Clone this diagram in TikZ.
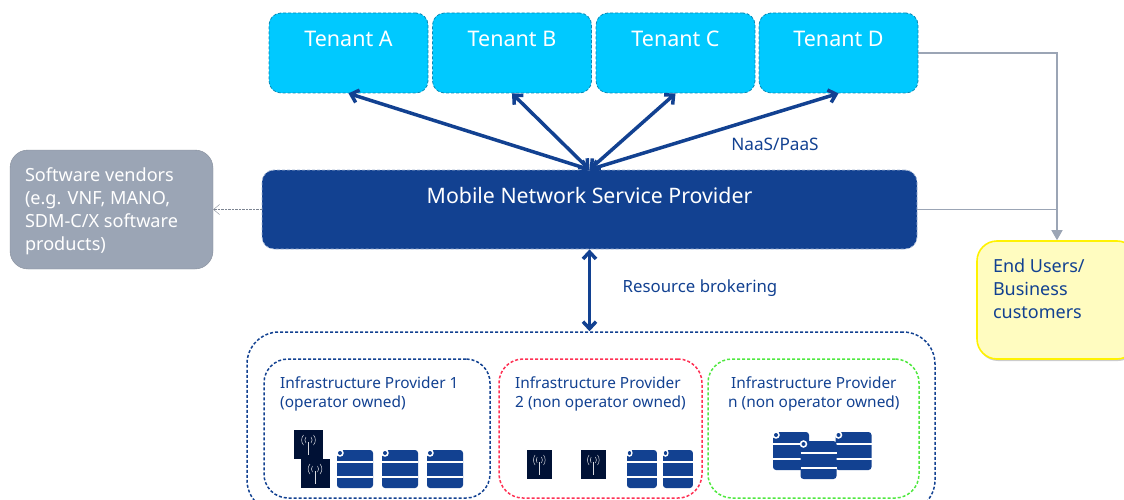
\documentclass[tikz,border=0pt]{standalone}
\usepackage{fontspec}
\setmainfont{Noto Sans}
\usetikzlibrary{arrows.meta,shadows}
\definecolor{navy}{HTML}{124191}
\definecolor{tilenavy}{HTML}{001135}
\definecolor{skyblue}{HTML}{00C9FF}
\definecolor{skyedge}{HTML}{0889B5}
\definecolor{slate}{HTML}{9BA5B5}
\definecolor{paleyellow}{HTML}{FFFCC0}
\definecolor{brightyellow}{HTML}{FFF200}
\definecolor{redline}{HTML}{FF3154}
\definecolor{greenline}{HTML}{4FE83F}
\tikzset{
 tenant/.style={draw=skyedge,densely dashed,line width=.8pt,fill=skyblue,rounded corners=12pt,minimum width=159pt,minimum height=80pt,inner sep=0pt,align=center,text=white,font=\fontsize{21.5}{28}\selectfont},
 provider/.style={draw=navy,densely dashed,line width=1.5pt,rounded corners=24pt,minimum height=139pt,inner sep=0pt},
 iplabel/.style={text=navy,inner sep=0pt,align=left,anchor=north west,font=\fontsize{15.4}{19}\selectfont},
 twoway/.style={navy,line width=3.5pt,{Straight Barb[length=7pt,width=13pt]}-{Straight Barb[length=7pt,width=13pt]}},
 feed/.style={draw=slate,line width=1.4pt},
 pics/server/.style={code={
  \fill[navy,rounded corners=3pt](0,0) rectangle (36,38);
  \draw[white,line width=1.2pt](0,12)--(36,12) (0,27)--(36,27);
  \fill[white](3,3) circle (3.8pt);
  \fill[navy](3,3) circle (2pt);
 }},
 pics/tile/.style={code={
  \fill[tilenavy](0,0) rectangle (29,29);
  \draw[white!85!tilenavy,line width=.6pt](14.5,12)--(14.5,25);
  \foreach \side in {-1,1}{
   \draw[white!85!tilenavy,line width=.5pt](14.5+\side*2.5,7) .. controls (14.5+\side*4,9) and (14.5+\side*4,11) .. (14.5+\side*2.5,13);
   \draw[white!85!tilenavy,line width=.5pt](14.5+\side*5,5) .. controls (14.5+\side*7.5,8) and (14.5+\side*7.5,12) .. (14.5+\side*5,15);
  }
 }},
}
\begin{document}
\begin{tikzpicture}[x=1pt,y=-1pt]
 \useasboundingbox (0,0) rectangle (1124,500);
 % tenants
 \node (tenantA) [tenant] at (348.5,53) {Tenant A\\ \mbox{}};
 \node (tenantB) [tenant] at (512,53) {Tenant B\\ \mbox{}};
 \node (tenantC) [tenant] at (675.5,53) {Tenant C\\ \mbox{}};
 \node (tenantD) [tenant] at (838.5,53) {Tenant D\\ \mbox{}};
 % provider row
 \node (mnsp) [draw=white!60!navy,densely dashed,line width=.8pt,fill=navy,rounded corners=12pt,minimum width=655pt,minimum height=79pt,inner sep=0pt,align=center,text=white,font=\fontsize{21.3}{29}\selectfont] at (589.5,209.5) {Mobile Network Service Provider\\ \mbox{}};
 \node (software) [draw=slate!85!black,fill=slate,rounded corners=18pt,minimum width=203pt,minimum height=119pt,inner sep=0pt,align=left,text=white,font=\fontsize{18.1}{23}\selectfont] at (111.5,209.5) {\parbox{173pt}{\vspace*{3pt}Software vendors\\(e.g. VNF, MANO,\\SDM-C/X software\\products)}};
 \node (endusers) [draw=brightyellow,line width=1.6pt,fill=paleyellow,rounded corners=20pt,minimum width=160pt,minimum height=118pt,inner sep=0pt,text=navy,font=\fontsize{18}{23}\selectfont,drop shadow={shadow xshift=1pt,shadow yshift=-2pt,opacity=.4}] at (1057,300) {\parbox{128pt}{End Users/\\Business\\customers\\ \mbox{}}};
 % infrastructure
 \node (infra) [provider,rounded corners=32pt,minimum width=688pt,minimum height=180pt] at (591,422) {};
 \node (ipone) [provider,minimum width=226pt] at (377,428.5) {};
 \node (iptwo) [provider,draw=redline,minimum width=203pt] at (600.5,428.5) {};
 \node (ipn) [provider,draw=greenline,minimum width=211pt] at (813.5,428.5) {};
 \node (iponetext) [iplabel] at (280,377) {Infrastructure Provider 1\\(operator owned)};
 \node (iptwotext) [iplabel] at (515,377) {Infrastructure Provider\\2 (non operator owned)};
 \node (ipntext) [iplabel,align=center] at (728,377) {Infrastructure Provider\\n (non operator owned)};
 % icons
 \pic at (294,430) {tile};
 \pic at (300.5,459) {tile};
 \foreach \xpos in {337,382,427}
  \pic at (\xpos,450) {server};
 \foreach \xpos in {527,581}
  \pic[xscale=.85] at (\xpos,450) {tile};
 \foreach \xpos in {627,663}
  \pic[xscale=.83] at (\xpos,450) {server};
 \pic at (773,432) {server};
 \pic at (835.5,432) {server};
 \pic at (800.5,441) {server};
 % connectors
 \foreach \name in {tenantA,tenantB,tenantC,tenantD}
  \draw[twoway] (\name.south) -- (mnsp.north);
 \draw[twoway] (mnsp.south) -- (mnsp.south |- infra.north);
 \draw[feed,-{Triangle[length=10pt,width=11pt]}] (tenantD.east) -| (endusers.north);
 \draw[feed] (mnsp.east) -- (mnsp.east -| endusers.north);
 \draw[slate!80!black,densely dotted,-{Straight Barb[length=6pt,width=10pt]}] (mnsp.west) -- (software.east);
 % labels
 \node (naas) [text=navy,inner sep=0pt,font=\fontsize{17.2}{20}\selectfont] at (775,144) {NaaS/PaaS};
 \node (broker) [text=navy,inner sep=0pt,font=\fontsize{16.8}{20}\selectfont] at (700,288) {Resource brokering};
\end{tikzpicture}
\end{document}
